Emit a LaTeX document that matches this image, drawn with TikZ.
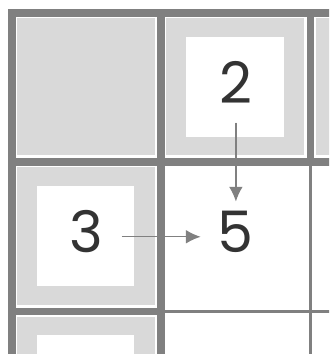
\documentclass[tikz,border=0pt]{standalone}
\usepackage{fontspec}
\setmainfont{Poppins}
\usetikzlibrary{arrows.meta}
\definecolor{gridgray}{HTML}{808080}
\definecolor{cellgray}{HTML}{D9D9D9}
\definecolor{digitgray}{HTML}{333333}
\begin{document}
\begin{tikzpicture}[x=2cm, y=-2cm, line join=miter, >={Latex[length=5.6pt,width=5.2pt]},
    digit/.style={minimum size=0.93cm, inner sep=0pt, text depth=3.8pt, text=digitgray, font=\fontsize{21.8}{24}\selectfont},
    arr/.style={->, draw=gridgray, fill=gridgray, line width=0.5pt}]
    \clip (-0.0797,-0.0857) rectangle (2.124,2.285);
    \foreach \i/\j in {0/0, 1/0, 2/0, 0/1, 0/2}{
        \fill[cellgray] (\i+0.035,\j+0.035) rectangle (\i+0.955,\j+0.955);
    }
    \foreach \i/\j in {1/0, 0/1, 0/2}{
        \fill[white] (\i+0.165,\j+0.16) rectangle (\i+0.82,\j+0.83);
    }
    \draw[gridgray, line width=2.9pt] (0,2.3) -- (0,0) -- (2.2,0) (0,1) -- (2.2,1) (1,0) -- (1,2.3) (2,0) -- (2,1) (0,2) -- (1,2);
    \draw[gridgray, line width=1.15pt] (2,1) -- (2,2.3) (1,2) -- (2.2,2);
    \node[digit] (n2) at (1.5,0.5) {2};
    \node[digit] (n3) at (0.5,1.5) {3};
    \node[digit] (n5) at (1.5,1.5) {5};
    \draw[arr] (n2) -- (n5);
    \draw[arr] (n3) -- (n5);
\end{tikzpicture}
\end{document}
